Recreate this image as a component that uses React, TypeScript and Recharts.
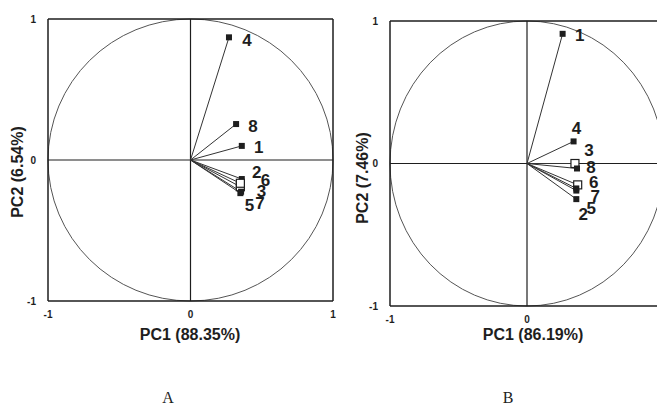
import React from "react";
import {
  ScatterChart,
  Scatter,
  XAxis,
  YAxis,
  ReferenceLine,
  ReferenceArea,
} from "recharts";

// variables 1..8, loadings on PC1 / PC2
const VARS = ["1", "2", "3", "4", "5", "6", "7", "8"];
const PC1_A = [0.36, 0.36, 0.35, 0.27, 0.35, 0.35, 0.355, 0.32];
const PC2_A = [0.1, -0.135, -0.19, 0.87, -0.235, -0.165, -0.225, 0.255];
const PC1_B = [0.26, 0.36, 0.35, 0.34, 0.36, 0.37, 0.36, 0.365];
const PC2_B = [0.91, -0.25, 0.0, 0.155, -0.19, -0.15, -0.175, -0.035];
const OPEN_VARS = ["3", "6"];
const TICKS = [-1, 0, 1];
const X_TICKS_B = [-1, 0]; // the "1" sits past the page edge in panel B

// label nudges (px) from marker centre
const LABEL_OFFSET_A: Record<string, [number, number]> = {
  "1": [17, 2], "2": [15, -7], "3": [21, 5], "4": [18, 3],
  "5": [9, 12], "6": [25, -3], "7": [19, 12], "8": [17, 2],
};
const LABEL_OFFSET_B: Record<string, [number, number]> = {
  "1": [17, 2], "2": [7, 15], "3": [14, -13], "4": [3, -13],
  "5": [15, 18], "6": [16, -2], "7": [19, 8], "8": [14, -1],
};

const FONT = '"Liberation Sans", Arial, Helvetica, sans-serif';
const INK = "#1e1e1e";

type Pt = { name: string; x: number; y: number };

const buildPoints = (xs: number[], ys: number[]): Pt[] =>
  VARS.map((name, i) => ({ name, x: xs[i], y: ys[i] }));

const Circle = (props: any) => {
  const { x, y, width, height } = props;
  return (
    <ellipse
      cx={x + width / 2}
      cy={y + height / 2}
      rx={width / 2}
      ry={height / 2}
      fill="none"
      stroke="#555"
      strokeWidth={1}
    />
  );
};

const makeMarker = (offsets: Record<string, [number, number]>) => (props: any) => {
  const { cx, cy, payload } = props;
  const open = OPEN_VARS.includes(payload.name);
  const s = open ? 8 : 6;
  const [dx, dy] = offsets[payload.name];
  return (
    <g>
      <rect
        x={cx - s / 2}
        y={cy - s / 2}
        width={s}
        height={s}
        fill={open ? "#fff" : INK}
        stroke={INK}
        strokeWidth={open ? 1.2 : 0}
      />
      <text
        x={cx + dx}
        y={cy + dy}
        textAnchor="middle"
        dominantBaseline="central"
        fontFamily={FONT}
        fontWeight="bold"
        fontSize={17}
        fill={INK}
      >
        {payload.name}
      </text>
    </g>
  );
};

const tickStyle = { fill: INK, fontSize: 10, fontWeight: "bold", fontFamily: FONT };

function LoadingPlot({
  points,
  offsets,
  margin,
  xAxisHeight,
  xTicks,
}: {
  points: Pt[];
  offsets: Record<string, [number, number]>;
  margin: { top: number; right: number; bottom: number; left: number };
  xAxisHeight: number;
  xTicks: number[];
}) {
  return (
    <ScatterChart width={345} height={345} margin={margin}>
      <XAxis
        type="number"
        dataKey="x"
        domain={[-1, 1]}
        ticks={xTicks}
        interval={0}
        axisLine={false}
        tickLine={false}
        tickSize={0}
        tickMargin={10}
        height={xAxisHeight}
        tick={tickStyle}
      />
      <YAxis
        type="number"
        dataKey="y"
        domain={[-1, 1]}
        ticks={TICKS}
        interval={0}
        axisLine={false}
        tickLine={false}
        tickSize={0}
        tickMargin={12}
        width={40}
        tick={tickStyle}
      />
      <ReferenceArea x1={-1} x2={1} y1={-1} y2={1} shape={Circle} ifOverflow="visible" />
      {TICKS.map((t) => (
        <ReferenceLine key={"v" + t} x={t} stroke={INK} strokeWidth={t === 0 ? 1.2 : 1.5} ifOverflow="visible" />
      ))}
      {TICKS.map((t) => (
        <ReferenceLine key={"h" + t} y={t} stroke={INK} strokeWidth={t === 0 ? 1.2 : 1.5} ifOverflow="visible" />
      ))}
      {points.map((p) => (
        <ReferenceLine
          key={"seg" + p.name}
          segment={[{ x: 0, y: 0 }, { x: p.x, y: p.y }]}
          stroke="#333"
          strokeWidth={1}
          ifOverflow="visible"
        />
      ))}
      <Scatter data={points} shape={makeMarker(offsets)} isAnimationActive={false} />
    </ScatterChart>
  );
}

const titleStyle: React.CSSProperties = {
  position: "absolute",
  fontFamily: FONT,
  fontWeight: "bold",
  fontSize: 16,
  color: INK,
  whiteSpace: "nowrap",
  lineHeight: 1,
};

const Title = ({ text, x, y, vertical }: { text: string; x: number; y: number; vertical?: boolean }) => (
  <div
    style={{
      ...titleStyle,
      left: x,
      top: y,
      transform: `translate(-50%, -50%)${vertical ? " rotate(-90deg)" : ""}`,
    }}
  >
    {text}
  </div>
);

const Caption = ({ text, x }: { text: string; x: number }) => (
  <div
    style={{
      position: "absolute",
      left: x,
      top: 398,
      transform: "translate(-50%, -50%)",
      fontFamily: '"Liberation Serif", "Times New Roman", serif',
      fontSize: 16,
      color: INK,
      lineHeight: 1,
    }}
  >
    {text}
  </div>
);

export default function App() {
  const pointsA = buildPoints(PC1_A, PC2_A);
  const pointsB = buildPoints(PC1_B, PC2_B);
  return (
    <div
      style={{
        position: "absolute",
        left: 0,
        top: 0,
        width: 657,
        height: 405,
        overflow: "hidden",
        background: "#fff",
      }}
    >
      <div style={{ position: "absolute", left: 0, top: 0 }}>
        <LoadingPlot
          points={pointsA}
          offsets={LABEL_OFFSET_A}
          margin={{ top: 19, right: 12, bottom: 4, left: 8 }}
          xAxisHeight={40}
          xTicks={TICKS}
        />
      </div>
      <div style={{ position: "absolute", left: 330, top: 0 }}>
        <LoadingPlot
          points={pointsB}
          offsets={LABEL_OFFSET_B}
          margin={{ top: 21, right: 11, bottom: 3, left: 20 }}
          xAxisHeight={36}
          xTicks={X_TICKS_B}
        />
      </div>
      <Title text="PC1 (88.35%)" x={190} y={335} />
      <Title text="PC2 (6.54%)" x={18} y={172} vertical />
      <Title text="PC1 (86.19%)" x={533} y={335} />
      <Title text="PC2 (7.46%)" x={363} y={178} vertical />
      <Caption text="A" x={168} />
      <Caption text="B" x={508} />
    </div>
  );
}
